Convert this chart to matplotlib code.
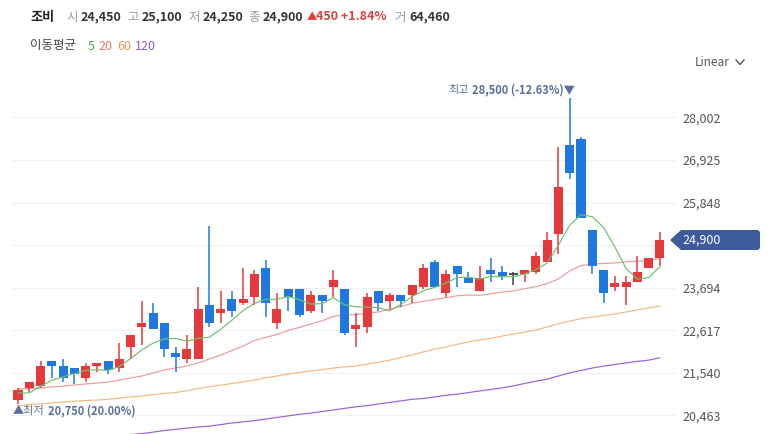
import matplotlib
matplotlib.use('Agg')
import matplotlib.pyplot as plt
from matplotlib.patches import Polygon
from matplotlib.lines import Line2D
import numpy as np

plt.rcParams['font.family'] = ['Noto Sans CJK KR', 'DejaVu Sans']

# ---------------- data ----------------
opens = [20850, 21150, 21200, 21850, 21700, 21650, 21400, 21700, 21850, 21650,
         22200, 22700, 23050, 22800, 22050, 21900, 21900, 23250, 23050, 23400,
         23300, 23450, 24200, 22800, 23650, 23650, 23100, 23500, 23700, 23650,
         22650, 22700, 23600, 23350, 23500, 23500, 23700, 24350, 23550, 24250,
         23950, 23600, 24150, 24100, 24050, 24050, 24100, 24350, 25050, 27300,
         27450, 25150, 24150, 23700, 23700, 23850, 24200, 24450]
highs = [21150, 21300, 21850, 21850, 21900, 21650, 21800, 21800, 21850, 22300,
         22500, 23350, 23300, 22800, 22200, 22500, 23700, 25250, 23600, 23600,
         24200, 24150, 24400, 23550, 23650, 23650, 23600, 23500, 24150, 23650,
         23050, 23550, 23600, 23550, 23500, 23750, 24300, 24400, 24150, 24250,
         24100, 24250, 24450, 24250, 24100, 24150, 24600, 25100, 27250, 28500,
         27500, 25150, 24150, 24000, 24000, 24500, 24450, 25100]
lows = [20750, 21050, 21150, 21400, 21300, 21250, 21300, 21550, 21500, 21550,
        21900, 22250, 22650, 21950, 21550, 21800, 21900, 22700, 22800, 22950,
        23250, 23250, 22950, 22650, 23100, 22950, 23050, 23050, 23450, 22500,
        22200, 22550, 23100, 23150, 23200, 23300, 23650, 23700, 23450, 23700,
        23800, 23600, 23850, 23900, 23750, 23850, 24050, 24350, 24550, 26450,
        25450, 24050, 23300, 23600, 23250, 23850, 24200, 24250]
closes = [21100, 21300, 21700, 21700, 21400, 21500, 21700, 21800, 21600, 21900,
          22500, 22800, 22650, 22150, 21950, 22150, 23150, 22800, 23150, 23100,
          23400, 24050, 23300, 23150, 23450, 23000, 23500, 23350, 23900, 22550,
          22750, 23450, 23300, 23500, 23350, 23750, 24200, 23700, 24050, 24050,
          23800, 23950, 24050, 24000, 24050, 24150, 24500, 24900, 26250, 26600,
          25450, 24250, 23550, 23800, 23850, 24100, 24450, 24900]

ma5 = [21030, 21030, 21200, 21350, 21440, 21520, 21600, 21620, 21600, 21700,
       21900, 22120, 22290, 22400, 22410, 22340, 22410, 22440, 22640, 22870,
       23120, 23300, 23400, 23400, 23470, 23390, 23280, 23290, 23440, 23260,
       23210, 23200, 23190, 23110, 23270, 23470, 23620, 23700, 23810, 23950,
       23960, 23910, 23980, 23970, 23970, 24040, 24150, 24320, 24770, 25280,
       25540, 25490, 25220, 24730, 24180, 23910, 23950, 24220]
ma20 = [21130, 21143, 21156, 21181, 21206, 21231, 21257, 21282, 21307, 21358,
        21409, 21459, 21535, 21611, 21662, 21712, 21788, 21889, 21990, 22105,
        22220, 22358, 22438, 22510, 22613, 22688, 22778, 22855, 22970, 23003,
        23015, 23048, 23080, 23148, 23218, 23298, 23350, 23395, 23440, 23488,
        23508, 23503, 23540, 23583, 23613, 23670, 23720, 23798, 23915, 24118,
        24253, 24293, 24305, 24320, 24345, 24363, 24375, 24435]
ma60 = [20700, 20740, 20750, 20780, 20800, 20820, 20840, 20850, 20870, 20900,
        20930, 20950, 20990, 21020, 21040, 21090, 21140, 21190, 21230, 21270,
        21310, 21360, 21410, 21460, 21510, 21550, 21590, 21620, 21660, 21690,
        21710, 21760, 21810, 21860, 21930, 21990, 22070, 22140, 22190, 22260,
        22320, 22370, 22410, 22470, 22520, 22570, 22620, 22700, 22780, 22850,
        22910, 22950, 22990, 23030, 23080, 23130, 23180, 23230]
ma120_first = 10  # first visible candle index for the 120-day line
ma120 = [19980, 20000, 20040, 20080, 20110, 20140, 20170, 20190, 20230, 20270,
         20300, 20330, 20370, 20410, 20450, 20490, 20520, 20560, 20600, 20640,
         20680, 20710, 20750, 20790, 20830, 20870, 20890, 20930, 20970, 21000,
         21040, 21080, 21120, 21160, 21210, 21270, 21330, 21380, 21460, 21540,
         21600, 21660, 21710, 21750, 21790, 21830, 21860, 21920]

yticks = [20463, 21540, 22617, 23694, 24771, 25848, 26925, 28002]
ytick_labels = ['20,463', '21,540', '22,617', '23,694', '', '25,848', '26,925', '28,002']

header_name = '조비'
header_items = [('시', '24,450'), ('고', '25,100'), ('저', '24,250'), ('종', '24,900')]
change_text = '▲450 +1.84%'
volume_item = ('거', '64,460')
ma_legend = [('5', '#4caf50'), ('20', '#e57373'), ('60', '#e39a5a'), ('120', '#8e5bd0')]

# ---------------- style ----------------
RED = '#e5393b'
BLUE = '#1f78e0'
DOJI = '#444444'
C5, C20, C60, C120 = '#6cc06c', '#ec9a9a', '#f2b882', '#9b5fdc'
TAG = '#3d5a9b'
ANN = '#5b6f9f'

W, H = 769, 434
fig = plt.figure(figsize=(W / 100, H / 100), dpi=100)
ax_l, ax_r, ax_t, ax_b = 12, 676, 75, 434
ax = fig.add_axes([ax_l / W, 1 - ax_b / H, (ax_r - ax_l) / W, (ax_b - ax_t) / H])

x = np.arange(len(closes))
o = np.array(opens); c = np.array(closes); h = np.array(highs); l = np.array(lows)
up = c > o
dn = c < o
eq = c == o
colors = np.where(up, RED, np.where(dn, BLUE, DOJI))

ax.vlines(x, l, h, colors=colors, lw=1.1, zorder=3)
body_bottom = np.minimum(o, c)
body_h = np.abs(c - o)
ax.bar(x[~eq], body_h[~eq], bottom=body_bottom[~eq], width=0.8,
       color=colors[~eq], zorder=4, linewidth=0)
ax.hlines(c[eq], x[eq] - 0.4, x[eq] + 0.4, colors=DOJI, lw=1.3, zorder=4)

ax.plot(x, ma5, color=C5, lw=0.85, zorder=5)
ax.plot(x, ma20, color=C20, lw=0.85, zorder=2)
ax.plot(x, ma60, color=C60, lw=0.85, zorder=2)
ax.plot(x[ma120_first:], ma120, color=C120, lw=0.85, zorder=2)

# pixel mapping of x: candle 0 centred at px 18, spacing 11.26 px
step = 11.26
ax.set_xlim((ax_l - 18) / step, (ax_r - 18) / step)
ax.set_ylim(19992, 29075)

ax.yaxis.tick_right()
ax.set_yticks(yticks)
ax.set_yticklabels(ytick_labels)
ax.tick_params(axis='y', length=0, pad=4.5, labelsize=9, labelcolor='#555555')
ax.set_xticks([])
ax.grid(axis='y', color='#f1f1f1', lw=0.8, zorder=0)
for s in ax.spines.values():
    s.set_visible(False)

# high / low annotations
imax = int(np.argmax(h)); imin = int(np.argmin(l))
pct_hi = (c[-1] - h[imax]) / h[imax] * 100
pct_lo = (c[-1] - l[imin]) / l[imin] * 100
hi_val = ax.annotate(f'{h[imax]:,} ({pct_hi:.2f}%)▼', xy=(x[imax], h[imax]), xytext=(5, 1),
                     textcoords='offset pixels', ha='right', va='bottom', fontsize=8,
                     color=ANN, fontweight='bold', annotation_clip=False)
lo_lab = ax.annotate('▲최저', xy=(x[imin], l[imin]), xytext=(-5, -2),
                     textcoords='offset pixels', ha='left', va='top', fontsize=8,
                     color=ANN, annotation_clip=False)

fig.canvas.draw()
r = fig.canvas.get_renderer()
bb_hi = hi_val.get_window_extent(r)
fig.text(bb_hi.x0 - 3, (bb_hi.y0 + bb_hi.y1) / 2, '최고', transform=None,
         fontsize=8, color=ANN, ha='right', va='center')
bb_lo = lo_lab.get_window_extent(r)
fig.text(bb_lo.x1 + 3, (bb_lo.y0 + bb_lo.y1) / 2, f'{l[imin]:,} ({pct_lo:.2f}%)', transform=None,
         fontsize=8, color=ANN, fontweight='bold', ha='left', va='center')

# current price tag
ypix = ax.transData.transform((0, c[-1]))[1]  # display px from bottom
def fx(px):
    return px / W
def fy_disp(py):
    return py / H
tag = [(670, ypix), (681, ypix + 10), (758, ypix + 10), (760, ypix + 8), (760, ypix - 8),
       (758, ypix - 10), (681, ypix - 10)]
fig.patches.append(Polygon([(fx(a), fy_disp(b)) for a, b in tag], closed=True,
                           transform=fig.transFigure, facecolor=TAG, edgecolor='none'))
fig.text(fx(682), fy_disp(ypix), f'{c[-1]:,}', color='white', fontsize=9,
         va='center', ha='left')

# header
def ty(top_px):
    return 1 - top_px / H
fig.text(fx(30), ty(17), header_name, fontsize=9.5, fontweight='bold', color='#222222', va='center')
hx = [(66, 81), (127, 142), (188, 203), (248, 263)]
for (lab, val), (lx, vx) in zip(header_items, hx):
    fig.text(fx(lx), ty(17), lab, fontsize=9, color='#999999', va='center')
    fig.text(fx(vx), ty(17), val, fontsize=9, fontweight='bold', color='#333333', va='center')
fig.text(fx(307), ty(17), change_text[0], fontsize=7.5, color='#e0403c', va='center')
fig.text(fx(316), ty(17), change_text[1:], fontsize=9, fontweight='bold', color='#e0403c', va='center')
fig.text(fx(394), ty(17), volume_item[0], fontsize=9, color='#999999', va='center')
fig.text(fx(409), ty(17), volume_item[1], fontsize=9, fontweight='bold', color='#333333', va='center')

# MA legend
fig.text(fx(30), ty(46), '이동평균', fontsize=9, color='#444444', va='center')
for (lab, col), lx in zip(ma_legend, [88, 98, 117, 135]):
    fig.text(fx(lx), ty(46), lab, fontsize=9, color=col, va='center')

# Linear selector
fig.text(fx(695), ty(62), 'Linear', fontsize=8.5, color='#555555', va='center')
fig.lines.append(Line2D([fx(736), fx(740), fx(744)], [ty(60), ty(64.5), ty(60)],
                        transform=fig.transFigure, color='#555555', lw=1.0))

fig.savefig('out.png', dpi=100)
